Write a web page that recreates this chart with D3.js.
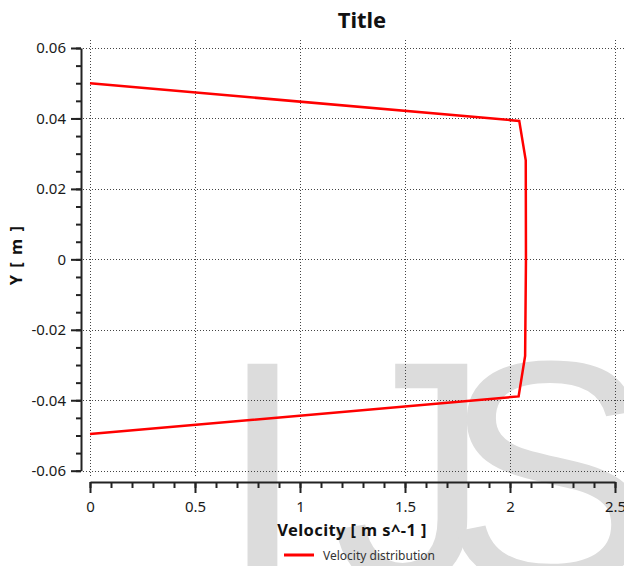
<!DOCTYPE html>
<html>
<head>
<meta charset="utf-8">
<script src="https://cdn.jsdelivr.net/npm/d3@7"></script>
<style>
  html, body { margin: 0; padding: 0; background: #fff; }
  svg { display: block; }
</style>
</head>
<body>
<svg id="chart" width="624" height="566"></svg>
<script>
// Velocity profile across the channel height
const velocity = [0, 2.044, 2.075, 2.076, 2.072, 2.041, 0];
const yPosition = [0.0500, 0.0393, 0.0281, 0.0, -0.0274, -0.0389, -0.0496];

const xTicks = [0, 0.5, 1, 1.5, 2, 2.5];
const xTickLabels = ["0", "0.5", "1", "1.5", "2", "2.5"];
const yTicks = [0.06, 0.04, 0.02, 0, -0.02, -0.04, -0.06];
const yTickLabels = ["0.06", "0.04", "0.02", "0", "-0.02", "-0.04", "-0.06"];

const titleText = "Title";
const xTitle = "Velocity [ m s^-1 ]";
const yTitle = "Y [ m ]";
const seriesName = "Velocity distribution";
const watermarkLetters = ["I", "J", "S"];
const watermarkX = [218, 331, 442];

const svg = d3.select("#chart");
const W = 624, H = 566;

const x = d3.scaleLinear().domain([0, 2.5]).range([90, 615]);
const y = d3.scaleLinear().domain([-0.06, 0.06]).range([470.7, 48]);

const font = "'Noto Sans', Tahoma, sans-serif";

// background watermark lettering
svg.append("g")
  .attr("font-family", "'Liberation Sans', Arial, sans-serif")
  .attr("font-size", 320)
  .attr("fill", "#dcdcdc")
  .selectAll("text").data(watermarkLetters).join("text")
  .attr("x", (d, i) => watermarkX[i])
  .attr("y", 584)
  .text(d => d);

// dotted grid
const grid = svg.append("g")
  .attr("stroke", "#444")
  .attr("stroke-width", 1)
  .attr("stroke-dasharray", "1,2");
grid.selectAll("line.v").data(xTicks).join("line")
  .attr("class", "v")
  .attr("x1", d => Math.round(x(d)) + 0.5).attr("x2", d => Math.round(x(d)) + 0.5)
  .attr("y1", 40).attr("y2", 477);
grid.selectAll("line.h").data(yTicks).join("line")
  .attr("class", "h")
  .attr("x1", 83).attr("x2", W)
  .attr("y1", d => Math.round(y(d)) + 0.5).attr("y2", d => Math.round(y(d)) + 0.5);

// y axis
const yMinor = d3.range(-0.06, 0.0601, 0.005).map(v => +v.toFixed(3));
const yAxisG = svg.append("g").attr("transform", "translate(81,0)");
yAxisG.append("g")
  .call(d3.axisLeft(y).tickValues(yMinor).tickSize(5).tickSizeOuter(0).tickFormat(""))
  .call(g => g.select(".domain").remove());
yAxisG.append("g")
  .call(d3.axisLeft(y).tickValues(yTicks).tickSize(10).tickSizeOuter(0)
    .tickFormat((d, i) => yTickLabels[i]).tickPadding(5));
yAxisG.selectAll("path, line").attr("stroke", "#222").attr("stroke-width", 2);
yAxisG.selectAll("text")
  .attr("font-family", font).attr("font-size", 15).attr("fill", "#1a1a1a");

// x axis
const xMinor = d3.range(0, 2.5001, 0.1).map(v => +v.toFixed(2));
const xAxisG = svg.append("g").attr("transform", "translate(0,482)");
xAxisG.append("g")
  .call(d3.axisBottom(x).tickValues(xMinor).tickSize(6).tickSizeOuter(0).tickFormat(""))
  .call(g => g.select(".domain").remove());
xAxisG.append("g")
  .call(d3.axisBottom(x).tickValues(xTicks).tickSize(11).tickSizeOuter(0)
    .tickFormat((d, i) => xTickLabels[i]).tickPadding(8));
xAxisG.selectAll("path, line").attr("stroke", "#222").attr("stroke-width", 2);
xAxisG.selectAll("text")
  .attr("font-family", font).attr("font-size", 15).attr("fill", "#1a1a1a");

// velocity profile
const line = d3.line().x(d => x(d[0])).y(d => y(d[1]));
svg.append("path")
  .datum(velocity.map((v, i) => [v, yPosition[i]]))
  .attr("d", line)
  .attr("fill", "none")
  .attr("stroke", "#ff0000")
  .attr("stroke-width", 2.5)
  .attr("stroke-linejoin", "miter");

// titles
svg.append("text")
  .attr("x", 362).attr("y", 28)
  .attr("text-anchor", "middle")
  .attr("font-family", font)
  .attr("font-weight", "bold").attr("font-size", 22)
  .attr("fill", "#111")
  .text(titleText);

svg.append("text")
  .attr("x", 352).attr("y", 536)
  .attr("text-anchor", "middle")
  .attr("font-family", font)
  .attr("font-weight", "bold").attr("font-size", 16.5)
  .attr("letter-spacing", 0.4)
  .attr("fill", "#111")
  .text(xTitle);

svg.append("text")
  .attr("transform", "translate(22,255) rotate(-90)")
  .attr("text-anchor", "middle")
  .attr("font-family", font)
  .attr("font-weight", "bold").attr("font-size", 16.5)
  .attr("letter-spacing", 1.5)
  .attr("fill", "#111")
  .text(yTitle);

// legend
const legend = svg.append("g");
legend.append("line")
  .attr("x1", 284).attr("x2", 314).attr("y1", 555).attr("y2", 555)
  .attr("stroke", "#ff0000").attr("stroke-width", 3);
legend.append("text")
  .attr("x", 323).attr("y", 560)
  .attr("font-family", font).attr("font-size", 12)
  .attr("fill", "#333")
  .text(seriesName);
</script>
</body>
</html>
